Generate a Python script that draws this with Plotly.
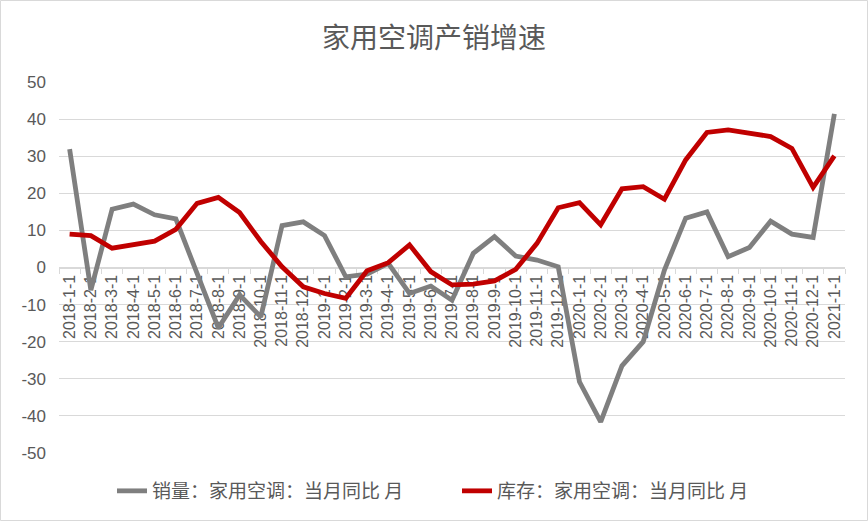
import plotly.graph_objects as go

categories = [
    "2018-1-1", "2018-2-1", "2018-3-1", "2018-4-1", "2018-5-1", "2018-6-1",
    "2018-7-1", "2018-8-1", "2018-9-1", "2018-10-1", "2018-11-1", "2018-12-1",
    "2019-1-1", "2019-2-1", "2019-3-1", "2019-4-1", "2019-5-1", "2019-6-1",
    "2019-7-1", "2019-8-1", "2019-9-1", "2019-10-1", "2019-11-1", "2019-12-1",
    "2020-1-1", "2020-2-1", "2020-3-1", "2020-4-1", "2020-5-1", "2020-6-1",
    "2020-7-1", "2020-8-1", "2020-9-1", "2020-10-1", "2020-11-1", "2020-12-1",
    "2021-1-1",
]

sales_yoy = [
    31.9, -6.1, 15.7, 17.1, 14.2, 13.1,
    -1.6, -16.3, -7.4, -13.3, 11.3, 12.3,
    8.6, -2.5, -1.8, 1.1, -7.0, -5.0,
    -8.8, 3.8, 8.3, 3.1, 2.0, 0.2,
    -30.8, -41.6, -26.5, -20.0, -0.7, 13.3,
    15.0, 2.9, 5.4, 12.5, 9.0, 8.1,
    41.4,
]

stock_yoy = [
    9.0, 8.6, 5.2, 6.1, 7.1, 10.3,
    17.3, 18.9, 14.8, 7.0, 0.2, -5.2,
    -7.0, -8.3, -0.9, 1.3, 6.1, -1.1,
    -4.7, -4.5, -3.6, -0.5, 6.5, 16.1,
    17.5, 11.5, 21.2, 21.8, 18.4, 29.0,
    36.4, 37.1, 36.3, 35.3, 32.1, 21.6,
    30.1,
]

y_tick_vals = [50, 40, 30, 20, 10, 0, -10, -20, -30, -40, -50]
y_tick_text = ["50", "40", "30", "20", "10", "0", "-10", "-20", "-30", "-40", "-50"]

title_text = "家用空调产销增速"
name_sales = "销量：家用空调：当月同比 月"
name_stock = "库存：家用空调：当月同比 月"

W, H = 868, 521
L, R, T, B = 59, 23, 82, 68
pw, ph = W - L - R, H - T - B

fig = go.Figure()
fig.add_trace(go.Scatter(
    x=categories, y=sales_yoy, mode="lines", name=name_sales,
    line=dict(color="#7f7f7f", width=4.8),
))
fig.add_trace(go.Scatter(
    x=categories, y=stock_yoy, mode="lines", name=name_stock,
    line=dict(color="#c00000", width=4.8),
))

text_color = "#595959"

fig.update_layout(
    width=W, height=H,
    margin=dict(l=L, r=R, t=T, b=B, autoexpand=False),
    paper_bgcolor="white", plot_bgcolor="white",
    title=dict(
        text=title_text, x=0.5, xanchor="center", xref="container",
        y=1 - 38 / H, yanchor="middle", yref="container",
        font=dict(family="Noto Sans CJK SC", size=28, color=text_color),
    ),
    font=dict(family="Liberation Sans, Arial", color=text_color),
    showlegend=True,
    legend=dict(
        orientation="h", x=(112) / W, xanchor="left", xref="container",
        y=(H - 491) / H, yanchor="middle", yref="container",
        font=dict(family="Noto Sans CJK SC", size=19, color=text_color),
        entrywidth=300, entrywidthmode="pixels",
        tracegroupgap=0,
        bgcolor="rgba(0,0,0,0)",
    ),
    xaxis=dict(
        type="category",
        anchor="free", position=0.5, automargin=False,
        showline=True, linecolor="#d9d9d9", linewidth=1,
        ticks="outside", tickson="boundaries", ticklen=5, tickcolor="#d9d9d9",
        tickangle=-90,
        tickfont=dict(family="Liberation Sans, Arial", size=16, color=text_color),
        showgrid=False, zeroline=False,
        layer="below traces",
        range=[-0.5, len(categories) - 0.5],
    ),
    yaxis=dict(
        range=[-50, 50], automargin=False,
        tickvals=y_tick_vals, ticktext=y_tick_text,
        showgrid=True, gridcolor="#d9d9d9", gridwidth=1,
        zeroline=False, showline=False, ticks="",
        tickfont=dict(family="Liberation Sans, Arial", size=17, color=text_color),
        ticklabelstandoff=12,
    ),
    shapes=[dict(
        type="rect", xref="paper", yref="paper",
        x0=(0.5 - L) / pw, x1=(W - 0.5 - L) / pw,
        y0=(T + ph - (H - 0.5)) / ph,
        y1=(T + ph - 0.5) / ph,
        line=dict(color="#d9d9d9", width=1), fillcolor="rgba(0,0,0,0)",
        layer="below",
    )],
)

fig.write_html(
    "out.html",
    config={"displayModeBar": False},
    post_script="document.body.style.margin='0';document.body.style.overflow='hidden';",
)
